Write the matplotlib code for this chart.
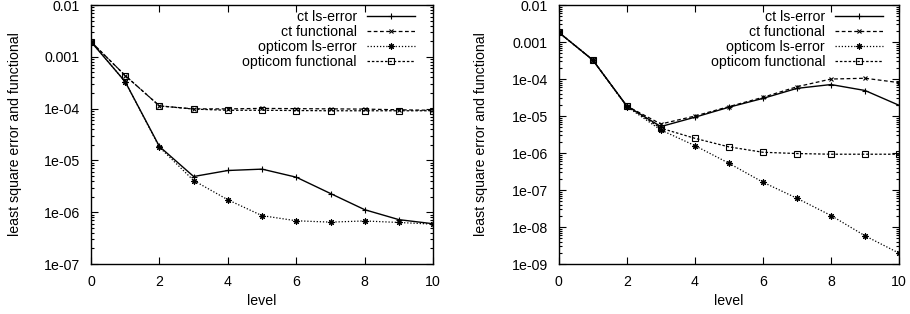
import numpy as np
import matplotlib
matplotlib.use("Agg")
import matplotlib.pyplot as plt
from matplotlib.ticker import FixedLocator, FuncFormatter, LogLocator, NullFormatter

plt.rcParams['font.family'] = ['Liberation Sans', 'DejaVu Sans']
plt.rcParams['font.size'] = 10.2

#data
levels = [0, 1, 2, 3, 4, 5, 6, 7, 8, 9, 10]

#left panel
left_ct_ls = [1.96e-3, 3.3e-4, 1.86e-5, 4.9e-6, 6.4e-6, 6.8e-6, 4.75e-6, 2.3e-6, 1.12e-6, 7.2e-7, 6.0e-7]
left_ct_fn = [1.96e-3, 4.35e-4, 1.13e-4, 9.9e-5, 9.9e-5, 1.01e-4, 1.0e-4, 9.9e-5, 9.8e-5, 9.5e-5, 9.3e-5]
left_op_ls = [1.96e-3, 3.3e-4, 1.8e-5, 4.1e-6, 1.74e-6, 8.6e-7, 6.85e-7, 6.45e-7, 6.8e-7, 6.35e-7, 5.9e-7]
left_op_fn = [1.96e-3, 4.35e-4, 1.13e-4, 9.8e-5, 9.3e-5, 9.3e-5, 9.2e-5, 9.1e-5, 9.1e-5, 9.1e-5, 9.1e-5]

#right panel
right_ct_ls = [1.83e-3, 3.27e-4, 1.87e-5, 5.2e-6, 9.3e-6, 1.73e-5, 3.0e-5, 5.6e-5, 7.1e-5, 4.9e-5, 1.95e-5]
right_ct_fn = [1.83e-3, 3.27e-4, 1.87e-5, 6.1e-6, 1.0e-5, 1.8e-5, 3.2e-5, 6.2e-5, 1.0e-4, 1.05e-4, 8.0e-5]
right_op_ls = [1.83e-3, 3.27e-4, 1.8e-5, 4.2e-6, 1.59e-6, 5.3e-7, 1.63e-7, 6.0e-8, 2.05e-8, 5.8e-9, 1.97e-9]
right_op_fn = [1.83e-3, 3.27e-4, 1.87e-5, 4.7e-6, 2.5e-6, 1.47e-6, 1.05e-6, 9.7e-7, 9.3e-7, 9.3e-7, 9.3e-7]

labels = ["ct ls-error", "ct functional", "opticom ls-error", "opticom functional"]

#styles
styles = [
    dict(color='black', lw=1.0, ls='-', marker='+', ms=5, mew=0.8),
    dict(color='black', lw=0.9, ls=(0, (3, 2)), marker='x', ms=3.5, mew=0.8),
    dict(color='black', lw=0.9, ls=(0, (1, 1.5)), marker=(8, 2, 0), ms=4.5, mew=0.8),
    dict(color='black', lw=0.9, ls=(0, (2, 1.5)), marker='s', ms=4, mew=0.8, mfc='none'),
]


def gp_fmt(v, pos):
    if v >= 0.001:
        return '%g' % v
    return '%.0e' % v


fig = plt.figure(figsize=(9.1, 3.14), dpi=100)
ax1 = fig.add_axes([0.1, 0.159, 0.376, 0.825])
ax2 = fig.add_axes([0.614, 0.159, 0.374, 0.825])

panels = [
    (ax1, [left_ct_ls, left_ct_fn, left_op_ls, left_op_fn], 1e-7, -0.203, 0.947),
    (ax2, [right_ct_ls, right_ct_fn, right_op_ls, right_op_fn], 1e-9, -0.208, 0.953),
]

for ax, series, ymin, lab_x, leg_x in panels:
    for vals, lab, st in zip(series, labels, styles):
        ax.plot(levels, vals, label=lab, **st)
    ax.set_yscale('log')
    ax.set_ylim(ymin, 0.01)
    ax.set_xlim(0, 10)
    decades = 10.0 ** np.arange(np.log10(ymin), -1.5)
    ax.yaxis.set_major_locator(FixedLocator(decades))
    ax.yaxis.set_major_formatter(FuncFormatter(gp_fmt))
    ax.yaxis.set_minor_locator(LogLocator(base=10, subs=np.arange(2, 10), numticks=20))
    ax.yaxis.set_minor_formatter(NullFormatter())
    ax.set_xticks([0, 2, 4, 6, 8, 10])
    ax.tick_params(which='both', direction='in', top=True, right=True, width=0.8)
    ax.tick_params(which='major', length=5, pad=8)
    ax.tick_params(which='minor', length=2.5)
    for sp in ax.spines.values():
        sp.set_linewidth(1.0)
    ax.set_xlabel("level")
    ax.set_ylabel("least square error and functional")
    ax.yaxis.set_label_coords(lab_x, 0.5)
    ax.xaxis.set_label_coords(0.5, -0.115)
    ax.legend(loc='upper right', bbox_to_anchor=(leg_x, 0.982), frameon=False,
              markerfirst=False, numpoints=1, handlelength=3.4, handletextpad=0.7,
              labelspacing=0.07, borderaxespad=0, borderpad=0)

fig.savefig("out.png", dpi=100)
